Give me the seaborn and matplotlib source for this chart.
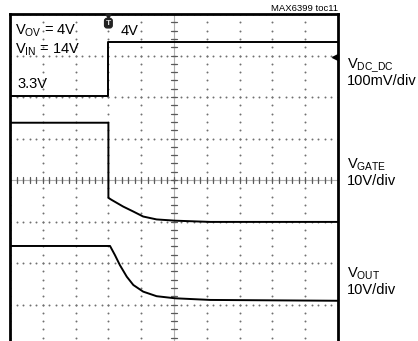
import numpy as np
import pandas as pd
import matplotlib
matplotlib.use("Agg")
import matplotlib.pyplot as plt
import seaborn as sns
from matplotlib import font_manager

sns.set_style("white")
names = {f.name for f in font_manager.fontManager.ttflist}
fam = "Liberation Sans Narrow" if "Liberation Sans Narrow" in names else "Liberation Sans"
narrow = fam == "Liberation Sans Narrow"
plt.rcParams["font.family"] = [fam, "DejaVu Sans"]
plt.rcParams["mathtext.fontset"] = "custom"
plt.rcParams["mathtext.rm"] = fam

# ---- data (x and y in scope divisions) ----
vdc_x = [0.0, 3.0, 3.0, 10.0]
vdc_y = [6.03, 6.03, 7.32, 7.32]

vgate_x = [0.0, 3.0, 3.0, 3.10, 3.45, 3.76, 4.06, 4.47, 5.03, 6.10, 10.0]
vgate_y = [5.38, 5.38, 3.57, 3.52, 3.36, 3.24, 3.12, 3.05, 3.02, 2.99, 2.99]

vout_x = [0.0, 3.05, 3.20, 3.35, 3.56, 3.76, 4.06, 4.47, 5.03, 6.10, 10.0]
vout_y = [2.41, 2.41, 2.19, 1.95, 1.67, 1.47, 1.31, 1.20, 1.15, 1.11, 1.09]

trigger_div = 3.0
ref_marker_y = 6.96
n_xdiv, n_ydiv = 10, 8

W, H = 418, 341
fig = plt.figure(figsize=(W / 100, H / 100), dpi=100)
ax = fig.add_axes([10 / W, 1 - 14 / H - 332 / H, 328 / W, 332 / H])
ax.set_xlim(0, n_xdiv)
ax.set_ylim(0, n_ydiv)
ax.set_xticks([]); ax.set_yticks([])
for s in ["left", "top", "right"]:
    ax.spines[s].set_linewidth(2.0)
    ax.spines[s].set_color("black")
ax.spines["bottom"].set_visible(False)

# dotted graticule
sub = np.arange(0, n_xdiv * 5 + 1) / 5
suby = np.arange(0, n_ydiv * 5 + 1) / 5
dot_col = "#707070"
for gx in range(0, n_xdiv):
    ax.scatter(np.full_like(suby, gx), suby, s=2.0, color=dot_col, lw=0, zorder=1)
for gy in range(1, n_ydiv + 1):
    ax.scatter(sub, np.full_like(sub, gy), s=2.0, color=dot_col, lw=0, zorder=1)
# center cross with ticks
ax.axhline(4, color="#b0b0b0", lw=0.8, zorder=1)
ax.axvline(5, color="#b0b0b0", lw=0.8, zorder=1)
for t in sub:
    ax.plot([t, t], [4 - 0.08, 4 + 0.08], color="#5a5a5a", lw=0.9, zorder=1)
for t in suby:
    ax.plot([5 - 0.1, 5 + 0.1], [t, t], color="#5a5a5a", lw=0.9, zorder=1)

# traces
for xs, ys in [(vdc_x, vdc_y), (vgate_x, vgate_y), (vout_x, vout_y)]:
    df = pd.DataFrame({"t": xs, "v": ys})
    sns.lineplot(data=df, x="t", y="v", ax=ax, estimator=None, sort=False,
                 color="black", lw=1.4, zorder=3)
ax.set_xlabel(""); ax.set_ylabel("")

# trigger marker and channel reference marker
ax.text(trigger_div, n_ydiv - 0.22, "T", fontsize=6, color="#dddddd",
        ha="center", va="center", fontweight="bold", zorder=5,
        bbox=dict(boxstyle="round,pad=0.15,rounding_size=0.3", fc="#222222", ec="#222222"))
ax.plot([trigger_div], [n_ydiv - 0.05], marker="v", ms=3.5, color="#222222",
        clip_on=False, zorder=4)
ax.plot([n_xdiv - 0.1], [ref_marker_y], marker="<", ms=5, color="black",
        clip_on=False, zorder=4)

fs = 12 if narrow else 10.5
small = 7.8 if narrow else 6.8

def txt(x, y, s, size=fs, ha="left"):
    fig.text(x / W, 1 - y / H, s, fontsize=size, ha=ha, va="baseline", color="black")

txt(15, 35, r"$\mathregular{V_{OV}}$ = 4V")
txt(15, 53.5, r"$\mathregular{V_{IN}}$ = 14V")
txt(17, 88, "3.3V")
txt(121, 35, "4V")
txt(347, 68.5, r"$\mathregular{V_{DC\_DC}}$")
txt(347, 85, "100mV/div")
txt(347, 168.5, r"$\mathregular{V_{GATE}}$")
txt(347, 185, "10V/div")
txt(347, 277.5, r"$\mathregular{V_{OUT}}$")
txt(347, 294, "10V/div")
txt(338, 11, "MAX6399 toc11", size=small, ha="right")

fig.savefig("out.png", dpi=100)
